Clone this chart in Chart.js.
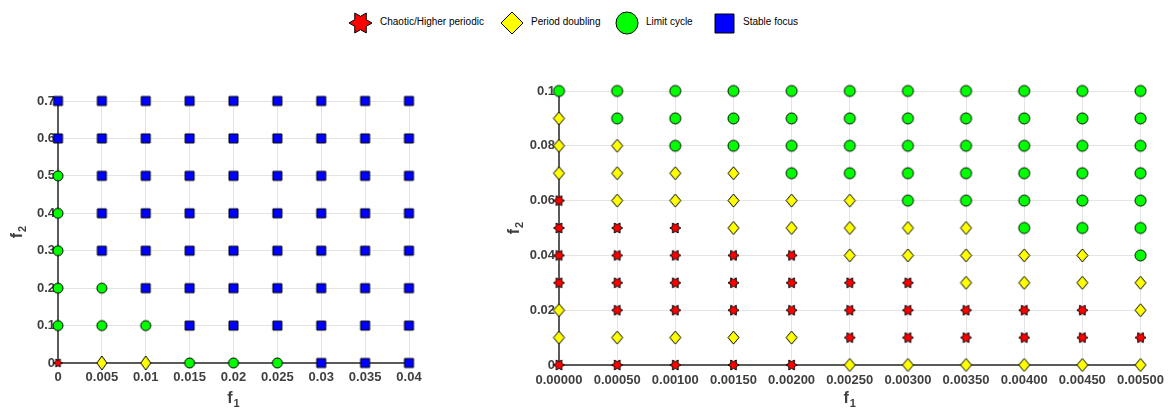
<!DOCTYPE html>
<html>
<head>
<meta charset="utf-8">
<script src="https://cdn.jsdelivr.net/npm/chart.js@4/dist/chart.umd.min.js"></script>
<style>
  html, body { margin: 0; padding: 0; background: #fff; }
  body { width: 1172px; height: 410px; position: relative; overflow: hidden; font-family: "Liberation Sans", Arial, sans-serif; }
  .lg-mark { position: absolute; }
  .lg-text { position: absolute; font-size: 10px; line-height: 12px; color: #000; white-space: nowrap; }
  #cL { position: absolute; left: 0; top: 60px; }
  #cR { position: absolute; left: 480px; top: 60px; }
</style>
</head>
<body>
<div id="legend"></div>
<canvas id="cL" width="440" height="350"></canvas>
<canvas id="cR" width="692" height="350"></canvas>
<script>
// Regime names, in legend order
const regimeNames = ['Chaotic/Higher periodic', 'Period doubling', 'Limit cycle', 'Stable focus'];
const regimeCodes = ['C', 'P', 'L', 'F'];
const regimeColors = ['#ff0000', '#ffff00', '#00ff00', '#0000ff'];

// Axis titles: base letter + subscript
const xTitle = ['f', '1'];
const yTitle = ['f', '2'];

// Left diagram: f1 columns, f2 rows; each string lists the regime code for f2 = leftF2[0..]
const leftF1 = [0, 0.005, 0.01, 0.015, 0.02, 0.025, 0.03, 0.035, 0.04];
const leftF2 = [0, 0.1, 0.2, 0.3, 0.4, 0.5, 0.6, 0.7];
const leftRegimes = [
  'CLLLLLFF',
  'PLLFFFFF',
  'PLFFFFFF',
  'LFFFFFFF',
  'LFFFFFFF',
  'LFFFFFFF',
  'FFFFFFFF',
  'FFFFFFFF',
  'FFFFFFFF'
];
const leftXTickLabels = ['0', '0.005', '0.01', '0.015', '0.02', '0.025', '0.03', '0.035', '0.04'];
const leftYTicks = [0, 0.1, 0.2, 0.3, 0.4, 0.5, 0.6, 0.7];
const leftYTickLabels = ['0', '0.1', '0.2', '0.3', '0.4', '0.5', '0.6', '0.7'];

// Right diagram: finer sweep near the origin
const rightF1 = [0, 0.0005, 0.001, 0.0015, 0.002, 0.0025, 0.003, 0.0035, 0.004, 0.0045, 0.005];
const rightF2 = [0, 0.01, 0.02, 0.03, 0.04, 0.05, 0.06, 0.07, 0.08, 0.09, 0.1];
const rightRegimes = [
  'CPPCCCCPPPL',
  'CPCCCCPPPLL',
  'CPCCCCPPLLL',
  'CPCCCPPPLLL',
  'CPCCCPPLLLL',
  'PCCCPPPLLLL',
  'PCCCPPLLLLL',
  'PCCPPPLLLLL',
  'PCCPPLLLLLL',
  'PCCPPLLLLLL',
  'PCPPLLLLLLL'
];
const rightXTickLabels = ['0.00000', '0.00050', '0.00100', '0.00150', '0.00200', '0.00250', '0.00300', '0.00350', '0.00400', '0.00450', '0.00500'];
const rightYTicks = [0, 0.02, 0.04, 0.06, 0.08, 0.1];
const rightYTickLabels = ['0', '0.02', '0.04', '0.06', '0.08', '0.1'];

// Marker glyphs drawn onto small canvases (used as Chart.js point styles)
function makeMarker(kind, w, h, fill) {
  const pad = 2;
  const c = document.createElement('canvas');
  c.width = Math.ceil(w + pad * 2);
  c.height = Math.ceil(h + pad * 2);
  const ctx = c.getContext('2d');
  const cx = c.width / 2, cy = c.height / 2;
  ctx.beginPath();
  if (kind === 'star') {
    const R = w / 2, r = R / Math.sqrt(3);
    const sy = (h / 2) / (R * Math.sin(Math.PI / 3));
    for (let k = 0; k < 12; k++) {
      const a = k * Math.PI / 6;
      const rr = k % 2 === 0 ? R : r;
      const px = cx + rr * Math.cos(a), py = cy + rr * Math.sin(a) * sy;
      if (k === 0) ctx.moveTo(px, py); else ctx.lineTo(px, py);
    }
    ctx.closePath();
  } else if (kind === 'diamond') {
    ctx.moveTo(cx, cy - h / 2);
    ctx.lineTo(cx + w / 2, cy);
    ctx.lineTo(cx, cy + h / 2);
    ctx.lineTo(cx - w / 2, cy);
    ctx.closePath();
  } else if (kind === 'circle') {
    ctx.ellipse(cx, cy, w / 2, h / 2, 0, 0, Math.PI * 2);
  } else {
    ctx.rect(cx - w / 2, cy - h / 2, w, h);
  }
  ctx.fillStyle = fill;
  ctx.fill();
  ctx.lineWidth = 1;
  ctx.strokeStyle = '#000';
  ctx.stroke();
  return c;
}

const markerKinds = ['star', 'diamond', 'circle', 'square'];
const leftMarkerSizes = [[9, 8], [10, 14], [10, 10], [9, 9]];
const rightMarkerSizes = [[11, 10], [11, 13], [11, 11], [9.5, 9.5]];

function buildDatasets(f1, f2, regimes, sizes) {
  return regimeCodes.map((code, ri) => {
    const pts = [];
    regimes.forEach((col, i) => {
      for (let j = 0; j < col.length; j++) {
        if (col[j] === code) pts.push({ x: f1[i], y: f2[j] });
      }
    });
    return {
      label: regimeNames[ri],
      data: pts,
      pointStyle: makeMarker(markerKinds[ri], sizes[ri][0], sizes[ri][1], regimeColors[ri]),
      pointRadius: 5,
      pointHoverRadius: 5,
      clip: false,
      showLine: false
    };
  });
}

const fontFamily = '"Liberation Sans", Arial, sans-serif';
const tickFont = { family: fontFamily, size: 13, weight: 'bold' };
const textColor = '#3f3f3f';
const gridColor = '#e4e4e4';
const axisColor = '#5a5a5a';

// Draws "f" with a lowered, smaller index digit as the axis titles
const subscriptTitles = {
  id: 'subscriptTitles',
  afterDraw(chart, args, opts) {
    const { ctx, chartArea } = chart;
    const base = 'bold 16px ' + fontFamily, sub = 'bold 11px ' + fontFamily;
    function drawLabel(parts) {
      ctx.font = base;
      const w1 = ctx.measureText(parts[0]).width;
      ctx.font = sub;
      const w2 = ctx.measureText(parts[1]).width;
      const x0 = -(w1 + w2 + 1) / 2;
      ctx.font = base;
      ctx.fillText(parts[0], x0, 0);
      ctx.font = sub;
      ctx.fillText(parts[1], x0 + w1 + 1, 4);
    }
    ctx.save();
    ctx.fillStyle = textColor;
    ctx.textBaseline = 'alphabetic';
    ctx.textAlign = 'left';
    ctx.save();
    ctx.translate((chartArea.left + chartArea.right) / 2, opts.xBaseline);
    drawLabel(xTitle);
    ctx.restore();
    ctx.save();
    ctx.translate(opts.yBaseline, (chartArea.top + chartArea.bottom) / 2);
    ctx.rotate(-Math.PI / 2);
    drawLabel(yTitle);
    ctx.restore();
    ctx.restore();
  }
};

function makeChart(id, cfg) {
  return new Chart(document.getElementById(id), {
    type: 'scatter',
    data: { datasets: buildDatasets(cfg.f1, cfg.f2, cfg.regimes, cfg.sizes) },
    plugins: [subscriptTitles],
    options: {
      responsive: false,
      animation: false,
      devicePixelRatio: 1,
      layout: { padding: cfg.padding },
      plugins: {
        legend: { display: false },
        tooltip: { enabled: false },
        subscriptTitles: { xBaseline: cfg.xTitleBaseline, yBaseline: cfg.yTitleBaseline }
      },
      scales: {
        x: {
          type: 'linear',
          min: cfg.f1[0],
          max: cfg.f1[cfg.f1.length - 1],
          afterBuildTicks: s => { s.ticks = cfg.f1.map(v => ({ value: v })); },
          afterFit: s => { s.height = cfg.xHeight; },
          ticks: {
            callback: (v, i) => cfg.xLabels[i],
            font: tickFont, color: textColor, padding: cfg.xTickPad,
            maxRotation: 0, autoSkip: false
          },
          grid: { color: gridColor, lineWidth: 1, drawTicks: false },
          border: { display: true, color: axisColor, width: 2 }
        },
        y: {
          type: 'linear',
          min: cfg.yTicks[0],
          max: cfg.yTicks[cfg.yTicks.length - 1],
          afterBuildTicks: s => { s.ticks = cfg.yTicks.map(v => ({ value: v })); },
          afterFit: s => { s.width = cfg.yWidth; },
          ticks: {
            callback: (v, i) => cfg.yLabels[i],
            font: tickFont, color: textColor, padding: cfg.yTickPad, autoSkip: false
          },
          grid: { color: gridColor, lineWidth: 1, drawTicks: false },
          border: { display: true, color: axisColor, width: 2 }
        }
      }
    }
  });
}

makeChart('cL', {
  f1: leftF1, f2: leftF2, regimes: leftRegimes, sizes: leftMarkerSizes,
  xLabels: leftXTickLabels, yTicks: leftYTicks, yLabels: leftYTickLabels,
  padding: { left: 0, top: 41, right: 31, bottom: 0 },
  xHeight: 47, yWidth: 58, xTickPad: 7, yTickPad: 3,
  xTitleBaseline: 343, yTitleBaseline: 22
});

makeChart('cR', {
  f1: rightF1, f2: rightF2, regimes: rightRegimes, sizes: rightMarkerSizes,
  xLabels: rightXTickLabels, yTicks: rightYTicks, yLabels: rightYTickLabels,
  padding: { left: 0, top: 31, right: 27, bottom: 0 },
  xHeight: 45, yWidth: 79, xTickPad: 8, yTickPad: 4,
  xTitleBaseline: 343, yTitleBaseline: 39
});

// Shared legend across the top
const legendLayout = [
  { mx: 360, tx: 380, size: [23, 20] },
  { mx: 512, tx: 531, size: [22, 22] },
  { mx: 627, tx: 646, size: [22, 22] },
  { mx: 724, tx: 743, size: [19, 19] }
];
const legendEl = document.getElementById('legend');
legendLayout.forEach((it, i) => {
  const m = makeMarker(markerKinds[i], it.size[0], it.size[1], regimeColors[i]);
  m.className = 'lg-mark';
  m.style.left = (it.mx - m.width / 2) + 'px';
  m.style.top = (23 - m.height / 2) + 'px';
  legendEl.appendChild(m);
  const t = document.createElement('div');
  t.className = 'lg-text';
  t.textContent = regimeNames[i];
  t.style.left = it.tx + 'px';
  t.style.top = '16px';
  legendEl.appendChild(t);
});
</script>
</body>
</html>
